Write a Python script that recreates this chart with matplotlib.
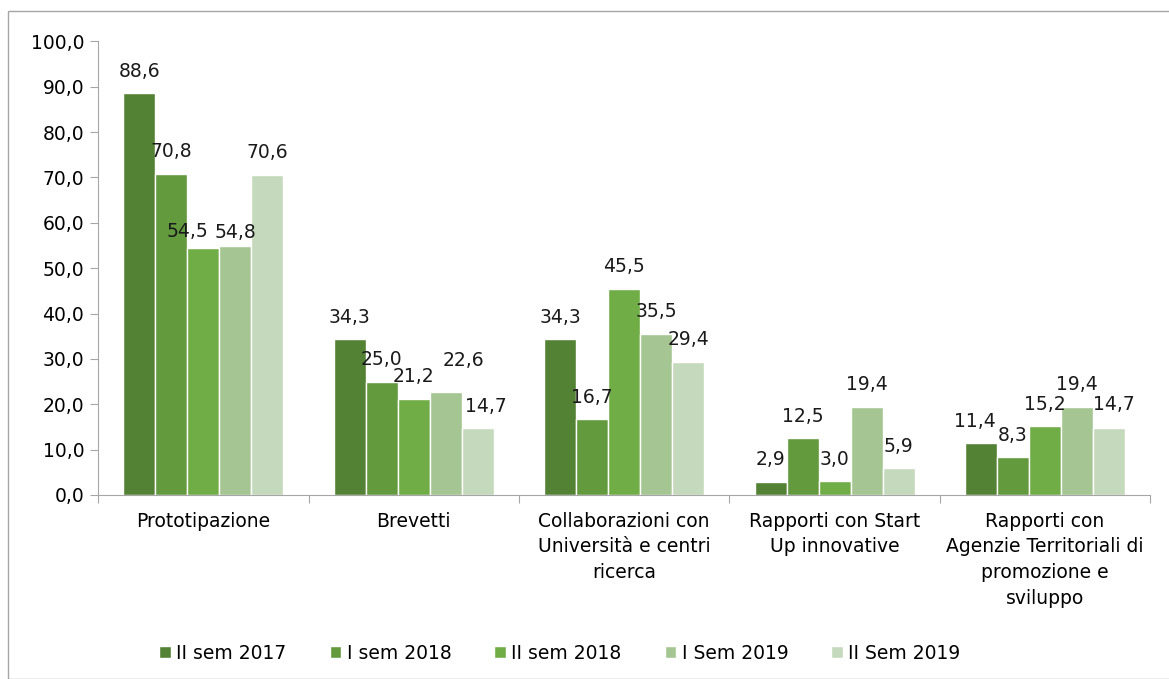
import matplotlib.pyplot as plt
import numpy as np

# Dati
categorie = ["Prototipazione", "Brevetti", "Collaborazioni con\nUniversità e centri\nricerca",
             "Rapporti con Start\nUp innovative",
             "Rapporti con\nAgenzie Territoriali di\npromozione e\nsviluppo"]
serie = ["II sem 2017", "I sem 2018", "II sem 2018", "I Sem 2019", "II Sem 2019"]
valori = [
    [88.6, 34.3, 34.3, 2.9, 11.4],
    [70.8, 25.0, 16.7, 12.5, 8.3],
    [54.5, 21.2, 45.5, 3.0, 15.2],
    [54.8, 22.6, 35.5, 19.4, 19.4],
    [70.6, 14.7, 29.4, 5.9, 14.7],
]
colori = ["#548235", "#639A3E", "#70AD47", "#A5C593", "#C5D9BC"]

# spostamenti manuali delle etichette (in pixel) come nell'originale
spost = {(2, 0): (-16, -6), (3, 0): (0, -8), (3, 1): (18, 10),
         (4, 1): (8, 0), (0, 4): (-6, 0), (4, 4): (5, 2)}

plt.rcParams['font.family'] = ['DejaVu Sans']
fs = 13.5

fig = plt.figure(figsize=(11.69, 6.79), dpi=100)
ax = fig.add_axes([0.084, 0.271, 0.9, 0.668])

# Cornice esterna
fig.patches.append(plt.Rectangle((8 / 1169, 0), 1, 1 - 11 / 679, transform=fig.transFigure,
                                 fill=False, edgecolor='#A6A6A6', linewidth=1))

x = np.arange(len(categorie))
w = 0.152
for i, (nome, vals) in enumerate(zip(serie, valori)):
    pos = x + (i - 2) * w
    barre = ax.bar(pos, vals, width=w, color=colori[i], edgecolor='white', linewidth=1, label=nome)
    for j, (b, v) in enumerate(zip(barre, vals)):
        dx, dy = spost.get((i, j), (0, 0))
        ax.annotate(f"{v:.1f}".replace('.', ','), (b.get_x() + b.get_width() / 2, v),
                    xytext=((dx) * 0.72, (24 + dy) * 0.72), textcoords='offset points',
                    ha='center', va='center_baseline', fontsize=fs, color='#1a1a1a')

ax.set_xlim(-0.5, len(categorie) - 0.5)
ax.set_ylim(0, 100)
ax.set_yticks(np.arange(0, 101, 10))
ax.set_yticklabels([f"{t:.1f}".replace('.', ',') for t in np.arange(0, 101, 10)], fontsize=fs)

# Tacche tra le categorie
ax.set_xticks(np.arange(-0.5, len(categorie)), minor=False)
ax.set_xticklabels([])
ax.tick_params(axis='x', length=6, color='#A6A6A6')
ax.set_xticks(x, minor=True)
ax.set_xticklabels(categorie, minor=True, fontsize=fs, linespacing=1.45)
ax.tick_params(axis='x', which='minor', length=0, pad=12)
ax.tick_params(axis='y', length=6, color='#A6A6A6', pad=4)

for s in ['top', 'right']:
    ax.spines[s].set_visible(False)
for s in ['left', 'bottom']:
    ax.spines[s].set_color('#A6A6A6')

fig.legend(loc='center', bbox_to_anchor=(0.479, 0.038), ncol=5, frameon=False,
           fontsize=fs, handlelength=0.6, handleheight=0.6, handletextpad=0.3,
           columnspacing=2.3)

fig.savefig("out.png", dpi=100)
